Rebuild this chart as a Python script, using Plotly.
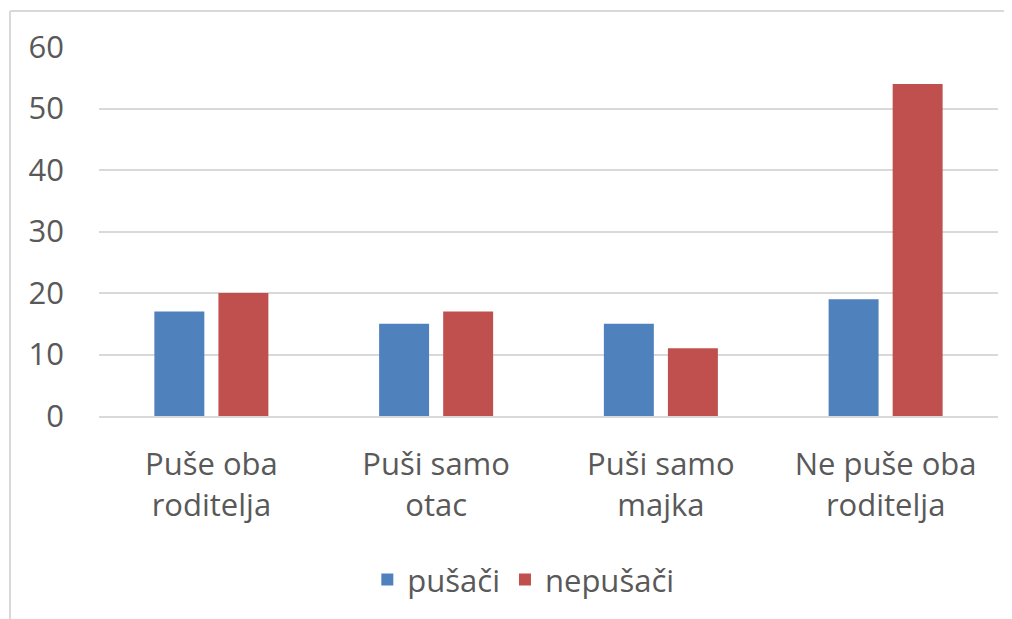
import plotly.graph_objects as go

categories = ["Puše oba<br>roditelja", "Puši samo<br>otac", "Puši samo<br>majka", "Ne puše oba<br>roditelja"]
pusaci = [17, 15, 15, 19]
nepusaci = [20, 17, 11, 54]
y_ticks = [0, 10, 20, 30, 40, 50, 60]

FONT = "Open Sans"
GRAY = "#595959"
GRID = "#d9d9d9"
FS = 31

fig = go.Figure()
fig.add_trace(go.Bar(x=categories, y=pusaci, name="pušači", marker_color="#4F81BD", marker_line_width=0))
fig.add_trace(go.Bar(x=categories, y=nepusaci, name="nepušači", marker_color="#C0504D", marker_line_width=0))

fig.update_layout(
    width=1004, height=611,
    margin=dict(l=91, r=14, t=39, b=203),
    paper_bgcolor="white", plot_bgcolor="white",
    barmode="group", bargap=0.43, bargroupgap=0.22,
    font=dict(family=FONT, color=GRAY, size=FS),
    legend=dict(orientation="h", x=0.472, xanchor="center", y=-0.444, yanchor="middle",
                font=dict(size=FS, color=GRAY), itemsizing="constant"),
    xaxis=dict(showgrid=False, showline=True, linecolor=GRID, linewidth=2,
               tickfont=dict(size=FS, color=GRAY), ticks="", ticklabelstandoff=20),
    yaxis=dict(range=[0, 60], tickvals=y_ticks, showgrid=True, gridcolor=GRID, gridwidth=1.5,
               zeroline=False, showline=False, tickfont=dict(size=FS, color=GRAY),
               ticks="", ticklabelstandoff=34),
    shapes=[
        dict(type="line", xref="paper", yref="paper", x0=-0.099, x1=1.2, y0=1.0976, y1=1.0976,
             line=dict(color=GRID, width=2)),
        dict(type="line", xref="paper", yref="paper", x0=-0.099, x1=-0.099, y0=1.0976, y1=-0.6,
             line=dict(color=GRID, width=2)),
    ],
)

fig.write_html("out.html")
